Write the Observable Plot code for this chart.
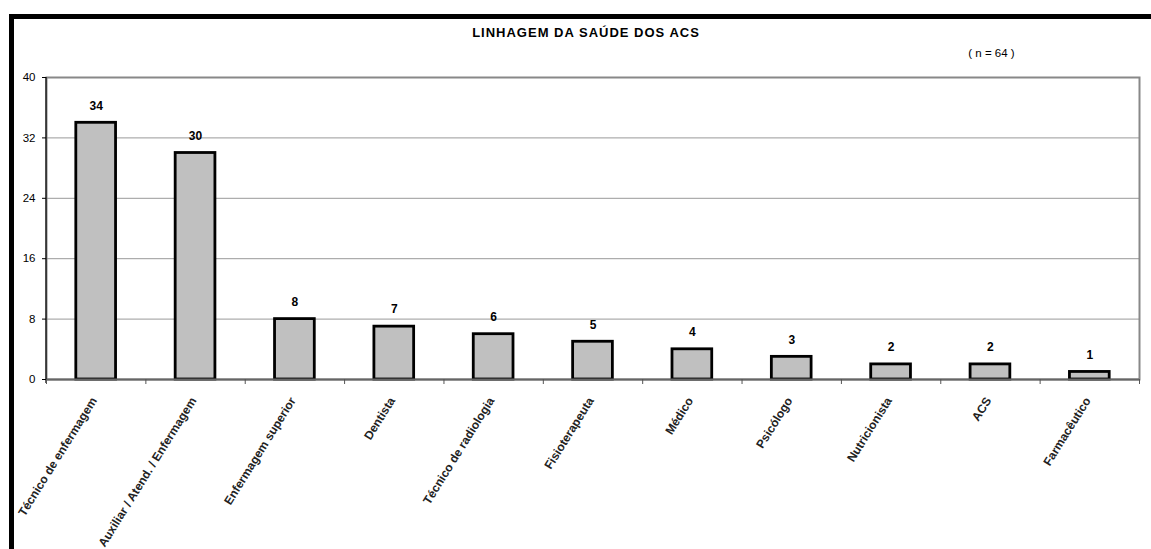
<!DOCTYPE html>
<html>
<head>
<meta charset="utf-8">
<script src="https://cdn.jsdelivr.net/npm/d3@7"></script>
<script src="https://cdn.jsdelivr.net/npm/@observablehq/plot@0.6"></script>
<style>
  html, body { margin: 0; padding: 0; background: #fff; }
  #wrap { position: relative; width: 1151px; height: 549px; overflow: hidden; }
  #border { position: absolute; left: 9px; top: 14px; width: 1142px; height: 540px;
            border-top: 5px solid #000; border-left: 5px solid #000; box-sizing: border-box; }
  #chart { position: absolute; left: 0; top: 0; }
  .title-text { letter-spacing: 1px; }
</style>
</head>
<body>
<div id="wrap"><div id="border"></div><div id="chart"></div></div>
<script>
const categories = [
  "Técnico de enfermagem",
  "Auxiliar / Atend. / Enfermagem",
  "Enfermagem superior",
  "Dentista",
  "Técnico de radiologia",
  "Fisioterapeuta",
  "Médico",
  "Psicólogo",
  "Nutricionista",
  "ACS",
  "Farmacêutico"
];
const counts = [34, 30, 8, 7, 6, 5, 4, 3, 2, 2, 1];
const yTicks = [0, 8, 16, 24, 32, 40];
const title = "LINHAGEM DA SAÚDE DOS ACS";
const subtitle = "( n = 64 )";

const data = categories.map((c, i) => ({category: c, count: counts[i]}));

const W = 1151, H = 549, ML = 46, MR = 12, MT = 77, MB = 170;
const step = (W - ML - MR) / categories.length;

const leftAxisLine = (index, scales, values, dims) => {
  const g = d3.create("svg:line")
    .attr("x1", dims.marginLeft).attr("x2", dims.marginLeft)
    .attr("y1", dims.marginTop).attr("y2", dims.height - dims.marginBottom + 4)
    .attr("stroke", "#000").attr("stroke-width", 1.2);
  return g.node();
};

const chart = Plot.plot({
  width: W, height: H,
  marginLeft: ML, marginRight: MR, marginTop: MT, marginBottom: MB,
  style: {fontFamily: "'Liberation Sans', Arial, sans-serif", background: "transparent", color: "#000"},
  x: {type: "band", domain: categories, paddingInner: 0.6, paddingOuter: 0.3, round: false},
  y: {domain: [0, 40]},
  marks: [
    Plot.gridY(yTicks.filter(t => t > 0 && t < 40), {stroke: "#999", strokeOpacity: 1, strokeWidth: 1}),
    Plot.frame({stroke: "#888", strokeWidth: 2}),
    Plot.barY(data, {x: "category", y: "count", fill: "#c0c0c0", stroke: "#000", strokeWidth: 2.8}),
    Plot.ruleY([0], {stroke: "#666", strokeWidth: 2}),
    leftAxisLine,
    Plot.axisY({ticks: yTicks, tickSize: 4, tickPadding: 7, fontSize: 11.5, label: null, stroke: "#000"}),
    Plot.axisX({ticks: categories, tickSize: 5, dx: -step / 2, tickFormat: () => "", label: null, stroke: "#555"}),
    Plot.axisX({ticks: categories.slice(-1), tickSize: 5, dx: step / 2, tickFormat: () => "", label: null, stroke: "#555"}),
    Plot.text(data, {x: "category", y: "count", text: d => String(d.count), dy: -17, fontWeight: "bold", fontSize: 12, lineAnchor: "middle", fill: "#000"}),
    Plot.text(data, {x: "category", y: () => 0, text: "category", rotate: -58, textAnchor: "end", lineAnchor: "middle", dx: -2, dy: 19, fontSize: 12, fontWeight: "bold", fill: "#222"}),
    Plot.text([title], {text: d => d, frameAnchor: "top", dx: -7, dy: -50, fontWeight: "bold", fontSize: 13, fill: "#000", className: "title-text"}),
    Plot.text([subtitle], {text: d => d, frameAnchor: "top-right", textAnchor: "middle", dx: -148, dy: -29, fontSize: 11.5, fill: "#000"})
  ]
});
document.getElementById("chart").appendChild(chart);
</script>
</body>
</html>
